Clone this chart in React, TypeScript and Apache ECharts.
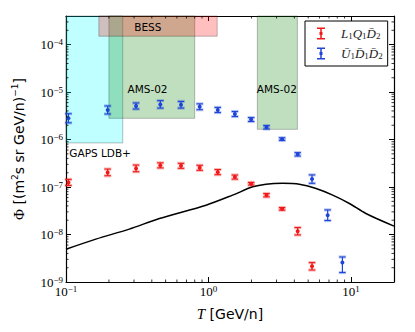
import React, { useEffect, useRef } from 'react';
import * as echarts from 'echarts';

// ---- data ----
const energyBins = [0.104, 0.196, 0.31, 0.459, 0.641, 0.867, 1.16, 1.53, 1.99, 2.55, 3.28, 4.22, 5.32, 6.85, 8.69];

const lqdFlux = [1.25e-7, 2.03e-7, 2.47e-7, 2.86e-7, 2.8e-7, 2.54e-7, 2.06e-7, 1.62e-7, 1.17e-7, 6.75e-8, 3.47e-8, 1.17e-8, 2.14e-9];
const lqdLow = [1.08e-7, 1.73e-7, 2.1e-7, 2.53e-7, 2.48e-7, 2.25e-7, 1.82e-7, 1.47e-7, 1.1e-7, 6.2e-8, 3.26e-8, 9.8e-9, 1.79e-9];
const lqdHigh = [1.45e-7, 2.39e-7, 2.9e-7, 3.23e-7, 3.16e-7, 2.87e-7, 2.33e-7, 1.79e-7, 1.25e-7, 7.3e-8, 3.7e-8, 1.4e-8, 2.56e-9];

const uddFlux = [2.8e-6, 4.2e-6, 5.1e-6, 5.5e-6, 5.4e-6, 4.9e-6, 4.2e-6, 3.45e-6, 2.65e-6, 1.81e-6, 1.02e-6, 4.9e-7, 1.47e-7, 2.55e-8, 2.57e-9];
const uddLow = [2.25e-6, 3.45e-6, 4.4e-6, 4.6e-6, 4.6e-6, 4.25e-6, 3.7e-6, 3.05e-6, 2.4e-6, 1.67e-6, 9.6e-7, 4.5e-7, 1.2e-7, 1.97e-8, 1.58e-9];
const uddHigh = [3.5e-6, 5.1e-6, 5.9e-6, 6.6e-6, 6.35e-6, 5.65e-6, 4.75e-6, 3.9e-6, 2.9e-6, 1.97e-6, 1.09e-6, 5.3e-7, 1.8e-7, 3.3e-8, 3.37e-9];

const bgEnergy = [0.1, 0.162, 0.278, 0.452, 0.96, 1.476, 2.04, 2.53, 3.31, 4.34, 5.68, 7.43, 9.73, 12.7, 20];
const bgFlux = [4.9e-9, 8.0e-9, 1.3e-8, 2.17e-8, 4.15e-8, 6.75e-8, 1.01e-7, 1.15e-7, 1.2e-7, 1.15e-7, 9.3e-8, 6.75e-8, 4.5e-8, 2.77e-8, 1.5e-8];

const regionNames = ['GAPS LDB+', 'AMS-02', 'AMS-02', 'BESS'];
const regionTmin = [0.1, 0.2, 2.2, 0.17];
const regionTmax = [0.25, 0.8, 4.2, 1.15];
const regionFluxMin = [8.5e-7, 2.8e-6, 1.64e-6, 1.5e-4];
const regionFluxMax = [1e-3, 1e-3, 1e-3, 1e-3];
const regionColors = ['rgba(0,255,255,0.25)', 'rgba(0,128,0,0.25)', 'rgba(0,128,0,0.25)', 'rgba(255,0,0,0.25)'];
const regionLabelT = [0.1055, 0.27, 2.18, 0.301];
const regionLabelFlux = [5.1e-7, 1.15e-5, 1.15e-5, 2.4e-4];

const xMin = 0.1;
const xMax = 20;
const yMin = 1e-9;
const yMax = 4e-4;
const minorMantissas = [2, 3, 4, 5, 6, 7, 8, 9];
const xDecades = [0.1, 1, 10];
const yDecades = [1e-9, 1e-8, 1e-7, 1e-6, 1e-5, 1e-4];

const seriesNames = ['LQD', 'UDD'];
const legendLabels: Record<string, string> = {
  LQD: '{i|L}{s|1}{i|Q}{s|1}{i|D\u0304}{s|2}',
  UDD: '{i|\u016A}{s|1}{i|D\u0304}{s|1}{i|D\u0304}{s|2}',
};

const RED = '#f01818';
const BLUE = '#1f45d8';

const xMinorTicks: number[] = [];
xDecades.forEach((d) => minorMantissas.forEach((m) => { if (d * m < xMax) xMinorTicks.push(d * m); }));
const yMinorTicks: number[] = [];
yDecades.forEach((d) => minorMantissas.forEach((m) => { if (d * m < yMax) yMinorTicks.push(d * m); }));

const powLabel = (v: number) => {
  const lg = Math.log10(v);
  const e = Math.round(lg);
  if (Math.abs(lg - e) > 1e-6) return '';
  return `{b|10}{s|${e < 0 ? '\u2212' : ''}${Math.abs(e)}}`;
};

const tickRich = {
  b: { fontFamily: 'Liberation Serif', fontSize: 13, color: '#000', lineHeight: 14, padding: [4, 0, 4, 0] },
  s: { fontFamily: 'Liberation Serif', fontSize: 9, color: '#000', lineHeight: 10, verticalAlign: 'top' },
};

const errIcon = 'path://M0,0H8V1.5H4.75V4.5H5.5V7.5H4.75V10.5H8V12H0V10.5H3.25V7.5H2.5V4.5H3.25V1.5H0Z';

const errRender = (params: any, api: any) => {
  const x = api.value(0);
  const y = api.value(1);
  const lo = api.value(2);
  const hi = api.value(3);
  const c = api.coord([x, y]);
  const l = api.coord([x, lo]);
  const h = api.coord([x, hi]);
  const color = api.visual('color');
  const cap = 3.2;
  return {
    type: 'group',
    children: [
      { type: 'line', shape: { x1: c[0] - cap - 0.5, y1: h[1], x2: c[0] + cap + 0.5, y2: h[1] }, style: { stroke: color, lineWidth: 3.2, opacity: 0.3 } },
      { type: 'line', shape: { x1: c[0] - cap - 0.5, y1: l[1], x2: c[0] + cap + 0.5, y2: l[1] }, style: { stroke: color, lineWidth: 3.2, opacity: 0.3 } },
      { type: 'line', shape: { x1: c[0], y1: l[1], x2: c[0], y2: h[1] }, style: { stroke: color, lineWidth: 1.2 } },
      { type: 'line', shape: { x1: c[0] - cap, y1: h[1], x2: c[0] + cap, y2: h[1] }, style: { stroke: color, lineWidth: 1.1 } },
      { type: 'line', shape: { x1: c[0] - cap, y1: l[1], x2: c[0] + cap, y2: l[1] }, style: { stroke: color, lineWidth: 1.1 } },
      { type: 'circle', shape: { cx: c[0], cy: c[1], r: 2 }, style: { fill: color } },
    ],
  };
};

const regionRender = (params: any, api: any) => {
  const cs = params.coordSys;
  const p0 = api.coord([api.value(0), api.value(3)]);
  const p1 = api.coord([api.value(1), api.value(2)]);
  const rect = echarts.graphic.clipRectByRect(
    { x: p0[0], y: p0[1], width: p1[0] - p0[0], height: p1[1] - p0[1] },
    { x: cs.x, y: cs.y, width: cs.width, height: cs.height }
  );
  if (!rect) return null;
  const i = params.dataIndex;
  return {
    type: 'rect',
    shape: rect,
    style: { fill: regionColors[i], stroke: 'rgba(0,0,0,0.25)', lineWidth: 1 },
  };
};

const labelRender = (params: any, api: any) => {
  const p = api.coord([api.value(0), api.value(1)]);
  return {
    type: 'text',
    x: p[0],
    y: p[1],
    style: {
      text: regionNames[params.dataIndex],
      fill: '#000',
      fontFamily: 'DejaVu Sans',
      fontSize: 10.5,
      align: 'left',
      verticalAlign: 'middle',
    },
  };
};

const xMinorRender = (params: any, api: any) => {
  const cs = params.coordSys;
  const p = api.coord([api.value(0), yMin]);
  const b = cs.y + cs.height;
  return {
    type: 'group',
    children: [
      { type: 'line', shape: { x1: p[0], y1: b, x2: p[0], y2: b - 2.5 }, style: { stroke: '#000', lineWidth: 0.8 } },
      { type: 'line', shape: { x1: p[0], y1: cs.y, x2: p[0], y2: cs.y + 2.5 }, style: { stroke: '#000', lineWidth: 0.8 } },
    ],
  };
};

const yMinorRender = (params: any, api: any) => {
  const cs = params.coordSys;
  const p = api.coord([xMin, api.value(1)]);
  const r = cs.x + cs.width;
  return {
    type: 'group',
    children: [
      { type: 'line', shape: { x1: cs.x, y1: p[1], x2: cs.x + 2.5, y2: p[1] }, style: { stroke: '#000', lineWidth: 0.8 } },
      { type: 'line', shape: { x1: r, y1: p[1], x2: r - 2.5, y2: p[1] }, style: { stroke: '#000', lineWidth: 0.8 } },
    ],
  };
};

const axisLine = { show: true, onZero: false, lineStyle: { color: '#000', width: 1.2 } };
const axisTick = { show: true, inside: true, length: 5, lineStyle: { color: '#000', width: 1 } };

export default function App() {
  const ref = useRef<HTMLDivElement>(null);
  useEffect(() => {
    if (!ref.current) return;
    const chart = echarts.init(ref.current, undefined, { renderer: 'svg' });
    const option: any = {
      animation: false,
      backgroundColor: '#fff',
      grid: { left: 66, right: 21, top: 16, bottom: 50 },
      legend: {
        data: seriesNames.map((n) => ({ name: n, icon: errIcon })),
        orient: 'vertical',
        left: 305,
        top: 21,
        itemWidth: 8,
        itemHeight: 12,
        itemGap: 3,
        padding: [4, 5, 4, 12],
        borderColor: '#000',
        borderWidth: 1,
        borderRadius: 0,
        backgroundColor: '#fff',
        formatter: (n: string) => legendLabels[n],
        textStyle: {
          padding: [0, 0, 0, 11],
          rich: {
            i: { fontFamily: 'Liberation Serif', fontStyle: 'italic', fontSize: 13, color: '#222', lineHeight: 14, padding: [2, 0, 2, 0] },
            s: { fontFamily: 'Liberation Serif', fontSize: 9, color: '#222', lineHeight: 10, verticalAlign: 'bottom' },
          },
        },
      },
      xAxis: [
        {
          type: 'log', logBase: 10, min: xMin, max: xMax, position: 'bottom',
          axisLine, axisTick, splitLine: { show: false },
          axisLabel: { formatter: powLabel, rich: tickRich, margin: 2 },
          name: '{t|T} [GeV/n]', nameLocation: 'middle', nameGap: 20,
          nameTextStyle: {
            fontFamily: 'DejaVu Sans', fontSize: 14, color: '#000',
            rich: { t: { fontFamily: 'Liberation Serif', fontStyle: 'italic', fontSize: 15, color: '#000' } },
          },
        },
        {
          type: 'log', logBase: 10, min: xMin, max: xMax, position: 'top',
          axisLine, axisTick, splitLine: { show: false }, axisLabel: { show: false },
        },
      ],
      yAxis: [
        {
          type: 'log', logBase: 10, min: yMin, max: yMax, position: 'left',
          axisLine, axisTick, splitLine: { show: false },
          axisLabel: { formatter: powLabel, rich: tickRich, margin: 3 },
          name: '{p|\u03A6} [(m{s|2}s sr GeV/n){s|\u22121}]', nameLocation: 'middle', nameGap: 38,
          nameTextStyle: {
            fontFamily: 'DejaVu Sans', fontSize: 14, color: '#000', lineHeight: 18,
            rich: {
              p: { fontFamily: 'Liberation Serif', fontSize: 15, color: '#000', lineHeight: 18 },
              s: { fontFamily: 'DejaVu Sans', fontSize: 9, color: '#000', lineHeight: 10, verticalAlign: 'top' },
            },
          },
        },
        {
          type: 'log', logBase: 10, min: yMin, max: yMax, position: 'right',
          axisLine, axisTick, splitLine: { show: false }, axisLabel: { show: false },
        },
      ],
      series: [
        {
          type: 'custom', name: 'regions', silent: true, z: 1,
          renderItem: regionRender,
          encode: { x: [0, 1], y: [2, 3] },
          data: regionNames.map((_, i) => [regionTmin[i], regionTmax[i], regionFluxMin[i], regionFluxMax[i]]),
        },
        {
          type: 'custom', name: 'regionLabels', silent: true, z: 4,
          renderItem: labelRender,
          encode: { x: 0, y: 1 },
          data: regionNames.map((_, i) => [regionLabelT[i], regionLabelFlux[i]]),
        },
        {
          type: 'line', name: 'background', z: 2, showSymbol: false, smooth: 0.3,
          lineStyle: { color: '#000', width: 1.5 },
          data: bgEnergy.map((e, i) => [e, bgFlux[i]]),
        },
        {
          type: 'custom', name: 'LQD', z: 3,
          itemStyle: { color: RED },
          renderItem: errRender,
          encode: { x: 0, y: 1 },
          data: lqdFlux.map((f, i) => [energyBins[i], f, lqdLow[i], lqdHigh[i]]),
        },
        {
          type: 'custom', name: 'UDD', z: 3,
          itemStyle: { color: BLUE },
          renderItem: errRender,
          encode: { x: 0, y: 1 },
          data: uddFlux.map((f, i) => [energyBins[i], f, uddLow[i], uddHigh[i]]),
        },
        {
          type: 'custom', name: 'xMinor', silent: true, z: 6,
          renderItem: xMinorRender,
          encode: { x: 0, y: 1 },
          data: xMinorTicks.map((v) => [v, yMin]),
        },
        {
          type: 'custom', name: 'yMinor', silent: true, z: 6,
          renderItem: yMinorRender,
          encode: { x: 0, y: 1 },
          data: yMinorTicks.map((v) => [xMin, v]),
        },
      ],
    };
    chart.setOption(option);
    return () => chart.dispose();
  }, []);
  return <div ref={ref} style={{ position: 'fixed', left: 0, top: 0, width: 415, height: 332 }} />;
}
